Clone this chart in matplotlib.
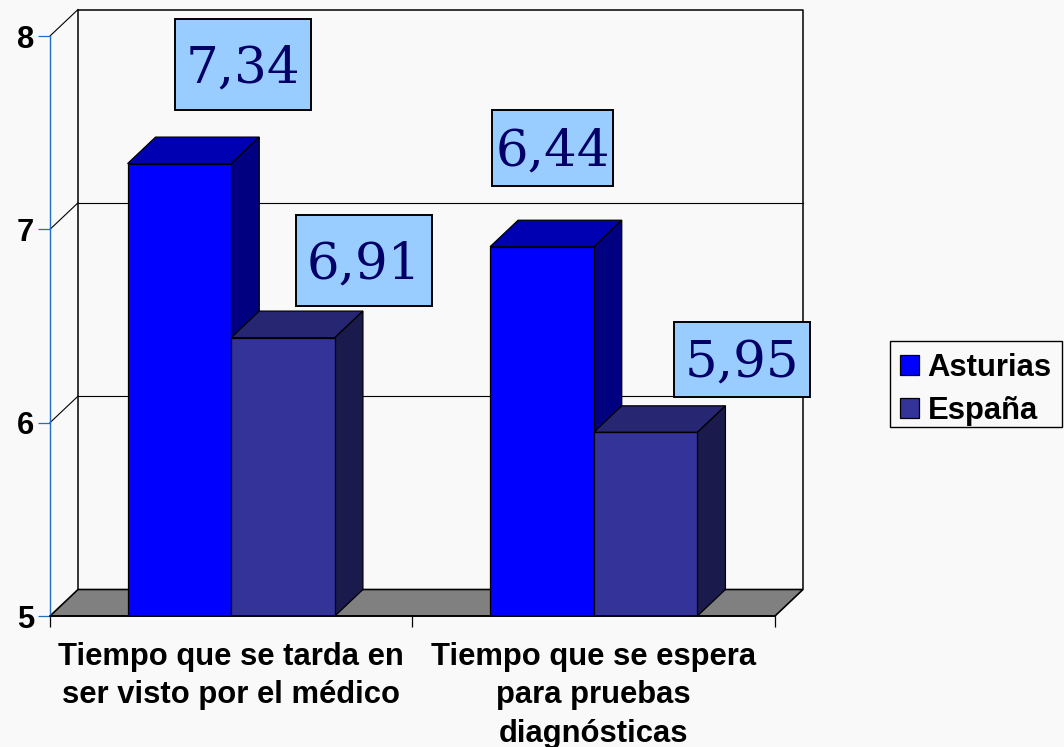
import numpy as np
import matplotlib
matplotlib.use('Agg')
import matplotlib.pyplot as plt
from matplotlib.patches import Rectangle

# Data
categories = ['Tiempo que se tarda en\nser visto por el médico',
              'Tiempo que se espera\npara pruebas\ndiagnósticas']
asturias = [7.34, 6.91]
espana = [6.44, 5.95]
y_ticks = [5, 6, 7, 8]
# the boxes in the original do not sit over their own bars, order is as drawn
box_labels = ['7,34', '6,91', '6,44', '5,95']

W, H = 1064, 747
BG = '#f9f9f9'
plt.rcParams['font.family'] = ['Liberation Sans', 'DejaVu Sans']

fig = plt.figure(figsize=(W / 100, H / 100), dpi=100, facecolor=BG)

# front plane of the chart, in pixels
left, right, top, bottom = 50, 775, 36, 616
ax = fig.add_axes([left / W, 1 - bottom / H, (right - left) / W, (bottom - top) / H])
ax.set_facecolor('none')
ax.set_xlim(0, len(categories))
ax.set_ylim(y_ticks[0], y_ticks[-1])

# depth of the fake 3d in data units
dx = 28 / (right - left) * len(categories)
dy = 26.5 / (bottom - top) * (y_ticks[-1] - y_ticks[0])

# walls and floor
x0, x1 = ax.get_xlim()
y0, y1 = ax.get_ylim()
ax.fill([x0, x1, x1 + dx, x0 + dx], [y0, y0, y0 + dy, y0 + dy],
        facecolor='#808080', edgecolor='black', lw=1.2, zorder=1, clip_on=False)
ax.plot([x0 + dx, x0 + dx, x1 + dx, x1 + dx], [y0 + dy, y1 + dy, y1 + dy, y0 + dy],
        color='black', lw=1.1, zorder=1, clip_on=False)
for t in y_ticks[1:]:
    ax.plot([x0, x0 + dx], [t, t + dy], color='black', lw=0.8, zorder=1, clip_on=False)
    if t < y_ticks[-1]:
        ax.plot([x0 + dx, x1 + dx], [t + dy, t + dy], color='black', lw=0.8, zorder=1, clip_on=False)


def bar3d(xs, values, width, front, side, roof, label):
    heights = np.array(values) - y0
    bars = ax.bar(xs, heights, width, bottom=y0, align='edge', color=front,
                  edgecolor='black', lw=0.9, zorder=3, label=label)
    for x, v in zip(xs, values):
        ax.fill([x, x + width, x + width + dx, x + dx], [v, v, v + dy, v + dy],
                facecolor=roof, edgecolor='black', lw=0.9, zorder=2, clip_on=False)
        ax.fill([x + width, x + width + dx, x + width + dx, x + width],
                [y0, y0 + dy, v + dy, v], facecolor=side, edgecolor='black',
                lw=0.9, zorder=2, clip_on=False)
    return bars


centers = np.arange(len(categories)) + 0.5
w = 0.286
h1 = bar3d(centers - w, asturias, w, '#0000ff', '#000080', '#0000b3', 'Asturias')
h2 = bar3d(centers, espana, w, '#333399', '#1a1a4d', '#262673', 'España')

# axes
for s in ['top', 'right']:
    ax.spines[s].set_visible(False)
ax.spines['left'].set_color('#1f6fc4')
ax.spines['left'].set_linewidth(1.0)
ax.spines['bottom'].set_linewidth(1.2)
ax.spines['bottom'].set_zorder(4)
ax.set_yticks(y_ticks)
ax.tick_params(axis='y', length=8.5, width=0.9, color='#1f6fc4', pad=3, labelsize=22.3)
for lab in ax.get_yticklabels():
    lab.set_fontweight('bold')
ax.set_xticks(centers)
ax.set_xticklabels(categories, fontsize=22.3, fontweight='bold', linespacing=1.37)
ax.set_xticks([0, 1, 2], minor=True)
ax.tick_params(axis='x', which='major', length=0, pad=18.5)
ax.tick_params(axis='x', which='minor', length=8, width=0.9)

# value boxes, pixel layout (x0, y0, x1, y1)
box_layout = [(175, 19, 311, 110), (296, 215, 432, 306), (492, 110, 613, 186), (674, 322, 810, 397)]
for txt, (bx0, by0, bx1, by1) in zip(box_labels, box_layout):
    fig.add_artist(Rectangle((bx0 / W, 1 - by1 / H), (bx1 - bx0) / W, (by1 - by0) / H,
                             transform=fig.transFigure, facecolor='#99ccff',
                             edgecolor='black', lw=1.4, zorder=5))
    fig.text((bx0 + bx1) / 2 / W, 1 - ((by0 + by1) / 2 + 4) / H, txt, ha='center', va='center',
             family='DejaVu Serif', fontsize=37, color='#000066', zorder=6)

# legend frame drawn by hand, the legend padding is not even top and bottom
fig.add_artist(Rectangle((890 / W, 1 - 427 / H), 172 / W, 86 / H, transform=fig.transFigure,
                         facecolor=BG, edgecolor='black', lw=1.0, zorder=4))
leg = fig.legend(handles=[h1, h2], loc='upper left', bbox_to_anchor=(889 / W, 1 - 342 / H),
                 bbox_transform=fig.transFigure, prop={'weight': 'bold', 'size': 22.3},
                 frameon=False, handlelength=0.62, handleheight=0.62, handletextpad=0.26,
                 labelspacing=0.42, borderpad=0.36, borderaxespad=0)
leg.set_zorder(7)

fig.savefig('out.png', dpi=100, facecolor=BG)
